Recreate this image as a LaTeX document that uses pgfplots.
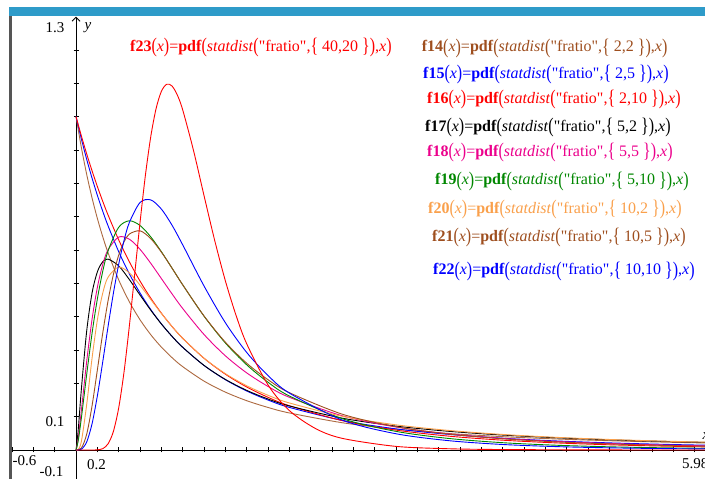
\documentclass[border=0pt]{standalone}
\usepackage{fontspec}
\setmainfont{Liberation Serif}[Ligatures=TeXOff]
\usepackage{pgfplots}
\pgfplotsset{compat=1.18}
\usetikzlibrary{arrows.meta}
\definecolor{tibar}{RGB}{46,155,201}
\definecolor{tiborder}{RGB}{85,85,85}
\definecolor{tibrown}{RGB}{158,78,30}
\definecolor{tigreen}{RGB}{0,135,0}
\definecolor{tiorange}{RGB}{250,160,75}
\newcommand\LP{\raisebox{-0.12em}{\scalebox{1}[1.3]{(}}}
\newcommand\RP{\raisebox{-0.12em}{\scalebox{1}[1.3]{)}}}
\newcommand\LB{\raisebox{-0.12em}{\scalebox{1}[1.3]{\{}}}
\newcommand\RB{\raisebox{-0.12em}{\scalebox{1}[1.3]{\}}}}
\newcommand\fdef[3]{\textbf{f#1}\LP\textit{x}\RP=\textbf{pdf}\LP\textit{statdist}\LP"fratio",\LB\ #2,#3\ \RB\RP,\textit{x}\RP}
\begin{document}
\begin{tikzpicture}[x=1pt,y=1pt]
\clip (0,0) rectangle (705,479);
\fill[white] (0,0) rectangle (705,479);
\fill[tiborder] (9.3,0) rectangle (11.7,463);
\fill[tibar] (9.3,463) rectangle (705,471.7);
\begin{axis}[
  x=106.67pt, y=333.33pt,
  xmin=-0.6, xmax=5.9, ymin=-0.087, ymax=1.3,
  anchor=south west, at={(11.3,0)},
  axis lines=middle,
  x axis line style={-, line width=0.9pt, black},
  y axis line style={-{Straight Barb[length=4pt,width=8pt]}, line width=0.9pt, black},
  xtick={-0.6,-0.4,-0.2,0.2,0.4,0.6,0.8,1,1.2,1.4,1.6,1.8,2,2.2,2.4,2.6,2.8,3,3.2,3.4,3.6,3.8,4,4.2,4.4,4.6,4.8,5,5.2,5.4,5.6,5.8},
  ytick={0.1,0.2,0.3,0.4,0.5,0.6,0.7,0.8,0.9,1,1.1,1.2},
  xticklabels={}, yticklabels={},
  tick align=center, major tick length=5pt,
  tick style={black, line width=0.7pt},
  every axis plot/.append style={line width=0.9pt, smooth},
  clip=true,
]
% f14 (2,2)
\addplot[tibrown!85!white] coordinates {(0,1) (0.05,0.9070) (0.1,0.8264) (0.15,0.7561) (0.2,0.6944) (0.25,0.64) (0.3,0.5917) (0.4,0.5102) (0.5,0.4444) (0.6,0.3906) (0.7,0.3460) (0.8,0.3086) (0.9,0.2770) (1,0.25) (1.2,0.2066) (1.4,0.1736) (1.6,0.1479) (1.8,0.1276) (2,0.1111) (2.5,0.0816) (3,0.0625) (3.5,0.0494) (4,0.04) (4.5,0.0331) (5,0.0278) (5.5,0.0237) (6,0.0204)};
% f15 (2,5)
\addplot[blue] coordinates {(0,1) (0.05,0.9330) (0.1,0.8717) (0.15,0.8155) (0.2,0.7639) (0.25,0.7164) (0.3,0.6726) (0.4,0.5948) (0.5,0.5283) (0.6,0.4710) (0.7,0.4215) (0.8,0.3784) (0.9,0.3409) (1,0.3080) (1.2,0.2536) (1.4,0.2109) (1.6,0.1770) (1.8,0.1498) (2,0.1278) (2.5,0.0884) (3,0.0633) (3.5,0.0467) (4,0.0353) (4.5,0.0272) (5,0.0214) (5.5,0.0171) (6,0.0138)};
% f16 (2,10)
\addplot[red] coordinates {(0,1) (0.05,0.9421) (0.1,0.8880) (0.15,0.8375) (0.2,0.7903) (0.25,0.7462) (0.3,0.7050) (0.4,0.6302) (0.5,0.5645) (0.6,0.5066) (0.7,0.4556) (0.8,0.4104) (0.9,0.3704) (1,0.3349) (1.2,0.2751) (1.4,0.2274) (1.6,0.1890) (1.8,0.1580) (2,0.1328) (2.5,0.0878) (3,0.0596) (3.5,0.0414) (4,0.0294) (4.5,0.0213) (5,0.0156) (5.5,0.0117) (6,0.0088)};
% f17 (5,2)
\addplot[black] coordinates {(0,0) (0.02,0.0589) (0.05,0.1829) (0.1,0.3577) (0.15,0.4709) (0.2,0.5346) (0.25,0.5646) (0.3,0.5726) (0.4,0.5524) (0.5,0.5112) (0.6,0.4648) (0.7,0.4196) (0.8,0.3780) (0.9,0.3409) (1,0.3080) (1.2,0.2537) (1.4,0.2117) (1.6,0.1789) (1.8,0.1529) (2,0.1321) (2.5,0.0952) (3,0.0717) (3.5,0.0559) (4,0.0448) (4.5,0.0367) (5,0.0306) (5.5,0.0259) (6,0.0222)};
% f18 (5,5)
\addplot[magenta] coordinates {(0,0) (0.02,0.0348) (0.05,0.1190) (0.1,0.2667) (0.15,0.3923) (0.2,0.4882) (0.25,0.5563) (0.3,0.6010) (0.4,0.6388) (0.5,0.6323) (0.6,0.6020) (0.7,0.5602) (0.8,0.5143) (0.9,0.4683) (1,0.4244) (1.2,0.3464) (1.4,0.2825) (1.6,0.2313) (1.8,0.1906) (2,0.1581) (2.5,0.1022) (3,0.0689) (3.5,0.0482) (4,0.0348) (4.5,0.0258) (5,0.0195) (5.5,0.0151) (6,0.0119)};
% f19 (5,10)
\addplot[tigreen] coordinates {(0,0) (0.02,0.0272) (0.05,0.0963) (0.1,0.2274) (0.15,0.3502) (0.2,0.4538) (0.25,0.5358) (0.3,0.5973) (0.4,0.6683) (0.5,0.6876) (0.6,0.6735) (0.7,0.6395) (0.8,0.5948) (0.9,0.5455) (1,0.4955) (1.2,0.4014) (1.4,0.3210) (1.6,0.2555) (1.8,0.2032) (2,0.1620) (2.5,0.0936) (3,0.0558) (3.5,0.0344) (4,0.0219) (4.5,0.0143) (5,0.0096) (5.5,0.0066) (6,0.0047)};
% f20 (10,2)
\addplot[tiorange] coordinates {(0,0) (0.02,0.0014) (0.05,0.0256) (0.1,0.1372) (0.15,0.2754) (0.2,0.3906) (0.25,0.4704) (0.3,0.5184) (0.4,0.5487) (0.5,0.5313) (0.6,0.4944) (0.7,0.4518) (0.8,0.4096) (0.9,0.3704) (1,0.3349) (1.2,0.2754) (1.4,0.2290) (1.6,0.1927) (1.8,0.1641) (2,0.1411) (2.5,0.1008) (3,0.0754) (3.5,0.0585) (4,0.0466) (4.5,0.0380) (5,0.0316) (5.5,0.0267) (6,0.0228)};
% f21 (10,5)
\addplot[tibrown] coordinates {(0,0) (0.05,0.0057) (0.1,0.0478) (0.15,0.1328) (0.2,0.2408) (0.25,0.3504) (0.3,0.4477) (0.35,0.5264) (0.4,0.5850) (0.45,0.6247) (0.5,0.6480) (0.6,0.6575) (0.7,0.6342) (0.8,0.5936) (0.9,0.5454) (1,0.4955) (1.2,0.4019) (1.4,0.3233) (1.6,0.2603) (1.8,0.2108) (2,0.1719) (2.5,0.1070) (3,0.0698) (3.5,0.0475) (4,0.0335) (4.5,0.0243) (5,0.0182) (5.5,0.0138) (6,0.0108)};
% f22 (10,10)
\addplot[blue] coordinates {(0,0) (0.05,0.0024) (0.1,0.0243) (0.15,0.0788) (0.2,0.1628) (0.25,0.2642) (0.3,0.3702) (0.35,0.4702) (0.4,0.5576) (0.45,0.6288) (0.5,0.6828) (0.6,0.7426) (0.7,0.7503) (0.8,0.7227) (0.9,0.6742) (1,0.6153) (1.2,0.4919) (1.4,0.3817) (1.6,0.2925) (1.8,0.2233) (2,0.1707) (2.5,0.0892) (3,0.0487) (3.5,0.0278) (4,0.0165) (4.5,0.0102) (5,0.0065) (5.5,0.0043) (6,0.0029)};
% f23 (40,20)
\addplot[red] coordinates {(0,0) (0.1,0) (0.15,0.00002) (0.2,0.0005) (0.25,0.0040) (0.3,0.0184) (0.35,0.0557) (0.4,0.1268) (0.45,0.2348) (0.5,0.3731) (0.55,0.5280) (0.6,0.6831) (0.65,0.8238) (0.7,0.9393) (0.75,1.0239) (0.8,1.0760) (0.85,1.0973) (0.9,1.0918) (0.95,1.0644) (1,1.0201) (1.1,0.9000) (1.2,0.7627) (1.3,0.6283) (1.4,0.5072) (1.5,0.4039) (1.6,0.3185) (1.8,0.1949) (2,0.1182) (2.25,0.0635) (2.5,0.0346) (3,0.0108) (3.5,0.0037) (4,0.0014) (5,0.0002) (6,0.00005)};
\end{axis}
% axis window labels
\begin{scope}[every node/.style={font=\fontsize{15}{17}\selectfont, inner sep=0pt}]
\node at (55,451) {1.3};
\node at (88,451) {\textit{y}};
\node at (55,57.3) {0.1};
\node at (51.5,7) {-0.1};
\node at (24.5,18) {-0.6};
\node at (96.5,14) {0.2};
\node[anchor=west] at (682,15) {5.98};
\node at (706,43) {\textit{x}};
\end{scope}
% function definitions
\begin{scope}[every node/.style={font=\fontsize{16}{18}\selectfont, inner sep=0pt, anchor=west}]
\node[text=red] at (130,431) {\fdef{23}{40}{20}};
\node[text=tibrown] at (421.7,430.7) {\fdef{14}{2}{2}};
\node[text=blue] at (423,404) {\fdef{15}{2}{5}};
\node[text=red] at (427,379) {\fdef{16}{2}{10}};
\node[text=black] at (425,351) {\fdef{17}{5}{2}};
\node[text=magenta] at (427,326) {\fdef{18}{5}{5}};
\node[text=tigreen] at (435,297.3) {\fdef{19}{5}{10}};
\node[text=tiorange] at (428,269) {\fdef{20}{10}{2}};
\node[text=tibrown] at (432,241) {\fdef{21}{10}{5}};
\node[text=blue] at (433,207.3) {\fdef{22}{10}{10}};
\end{scope}
\end{tikzpicture}
\end{document}
